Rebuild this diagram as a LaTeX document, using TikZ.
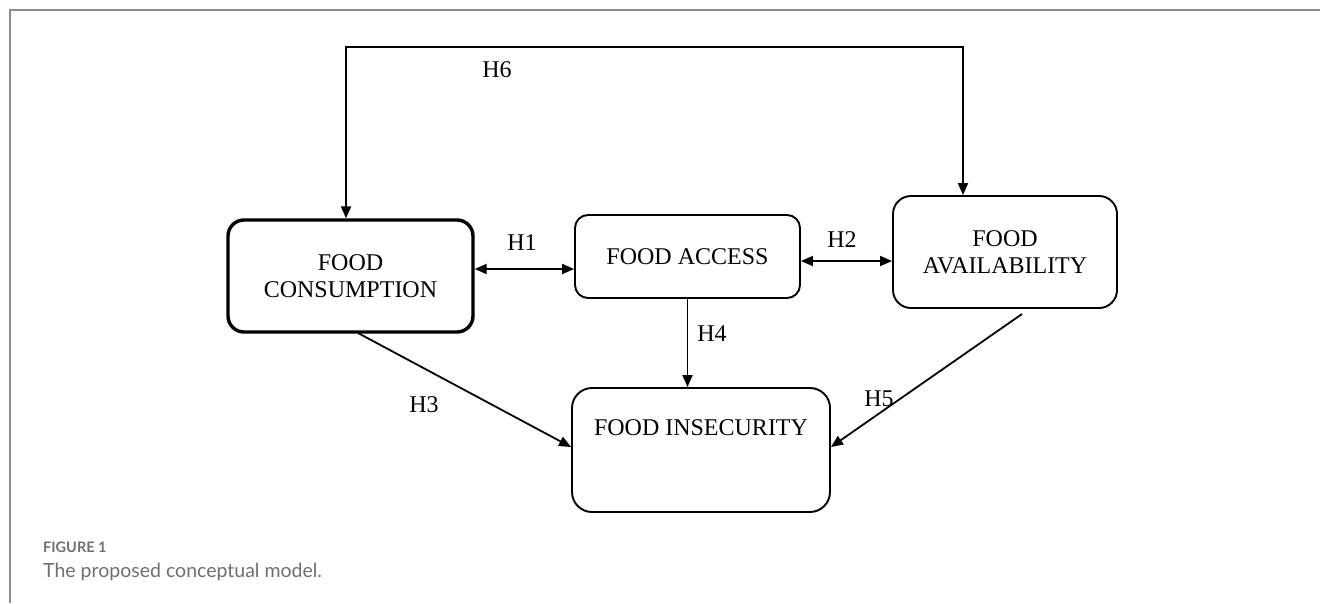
\documentclass[tikz,border=0pt]{standalone}
\usepackage{fontspec}
\setmainfont{Liberation Serif}
\newfontfamily\capfont{Lato}
\usetikzlibrary{arrows.meta}
\definecolor{framegray}{HTML}{8C8C8C}
\definecolor{capgray}{HTML}{707070}
\begin{document}
\begin{tikzpicture}[x=1pt,y=-1pt,
  every node/.style={font=\fontsize{24}{27}\selectfont},
  conbox/.style={draw, line width=1.9pt, rounded corners=13pt, align=center, inner sep=0pt},
  thickbox/.style={conbox, line width=3.4pt, rounded corners=16pt},
  arr/.style={line width=1.8pt, -{Triangle[length=12pt,width=10pt]}},
  biarr/.style={line width=1.8pt, {Triangle[length=12pt,width=10pt]}-{Triangle[length=12pt,width=10pt]}},
  hlabel/.style={inner sep=0pt}
]
\useasboundingbox (0,0) rectangle (1320,603);
\fill[white] (0,0) rectangle (1320,603);
% frame
\draw[framegray, line width=2pt] (10,603) -- (10,10) -- (1320,10);

% boxes
\node[thickbox, minimum width=245pt, minimum height=112pt] (cons) at (350.5,276) {FOOD\\CONSUMPTION};
\node[conbox, minimum width=225pt, minimum height=83pt] (access) at (687.5,256.5) {FOOD ACCESS};
\node[conbox, rounded corners=18pt, minimum width=224pt, minimum height=112pt] (avail) at (1005,252) {FOOD\\AVAILABILITY};
\node[conbox, rounded corners=20pt, minimum width=258pt, minimum height=124pt] (insec) at (701,450) {};
\node[hlabel] (insectext) at (701,428) {FOOD INSECURITY};

% coordinates
\coordinate (h6a) at (346,47);
\coordinate (h6b) at (963,47);
\coordinate (h1y) at (0,269);
\coordinate (h2y) at (0,261);
\coordinate (h3s) at (358,333);
\coordinate (h3e) at (0,447);
\coordinate (h5s) at (1022,314);

% connectors
\draw[biarr] (h6a |- cons.north) -- (h6a) -- (h6b) -- (h6b |- avail.north);
\draw[biarr] (cons.east |- h1y) -- (access.west |- h1y);
\draw[biarr] (access.east |- h2y) -- (avail.west |- h2y);
\draw[arr] (access.south) -- (insec.north -| access.south);
\draw[arr] (h3s) -- (insec.west |- h3e);
\draw[arr] (h5s) -- (insec.east |- h3e);

% labels
\node[hlabel] (lh6) at (497,70) {H6};
\node[hlabel] (lh1) at (522,243) {H1};
\node[hlabel] (lh2) at (842,240) {H2};
\node[hlabel] (lh4) at (712,334) {H4};
\node[hlabel] (lh3) at (424,405) {H3};
\node[hlabel] (lh5) at (879,399) {H5};

% caption
\node[anchor=west, inner sep=0pt, text=capgray, font=\capfont\bfseries\fontsize{14.5}{16}\selectfont] (figlab) at (43,547) {FIGURE 1};
\node[anchor=west, inner sep=0pt, text=capgray, font=\capfont\fontsize{19.5}{22}\selectfont] (figcap) at (43,572) {The proposed conceptual model.};
\end{tikzpicture}
\end{document}
